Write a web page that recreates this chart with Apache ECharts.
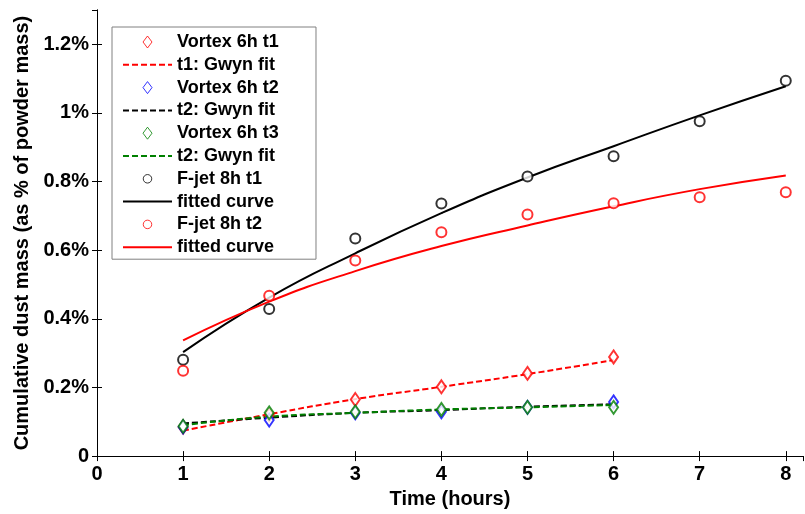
<!DOCTYPE html>
<html>
<head>
<meta charset="utf-8">
<script src="https://cdn.jsdelivr.net/npm/echarts@6/dist/echarts.min.js"></script>
<style>
html,body{margin:0;padding:0;background:#fff;}
#chart{width:805px;height:514px;}
</style>
</head>
<body>
<div id="chart"></div>
<script>
// ---- data (percent of powder mass) ----
const hoursVortex = [1, 2, 3, 4, 5, 6];
const hoursFjet = [1, 2, 3, 4, 5, 6, 7, 8];
const vortexT1 = [0.085, 0.120, 0.165, 0.202, 0.241, 0.289];
const vortexT1Fit = [0.074, 0.122, 0.166, 0.202, 0.239, 0.280];
const vortexT2 = [0.085, 0.105, 0.126, 0.129, 0.142, 0.158];
const vortexT2Fit = [0.095, 0.112, 0.126, 0.134, 0.144, 0.151];
const vortexT3 = [0.087, 0.126, 0.129, 0.136, 0.142, 0.142];
const vortexT3Fit = [0.090, 0.115, 0.126, 0.136, 0.142, 0.149];
const fjetT1 = [0.281, 0.429, 0.634, 0.736, 0.815, 0.874, 0.976, 1.094];
const fjetT1Fit = [0.303, 0.462, 0.591, 0.708, 0.812, 0.903, 0.993, 1.078];
const fjetT2 = [0.249, 0.467, 0.570, 0.652, 0.704, 0.737, 0.754, 0.769];
const fjetT2Fit = [0.337, 0.450, 0.539, 0.612, 0.672, 0.728, 0.778, 0.818];
const legendNames = ['Vortex 6h t1', 't1: Gwyn fit', 'Vortex 6h t2', 't2: Gwyn fit',
  'Vortex 6h t3', 't2: Gwyn fit ', 'F-jet 8h t1', 'fitted curve', 'F-jet 8h t2', 'fitted curve '];
const xTitle = 'Time (hours)';
const yTitle = 'Cumulative dust mass (as % of powder mass)';

const pair = (xs, ys) => xs.map((x, i) => [x, ys[i]]);
const FONT = '"Liberation Sans", Arial, sans-serif';

const RED = '#ff0000', BLUE = '#0000ff', GREEN = '#008000', BLACK = '#000000';
const DIAM = [9, 13], CIRC = 10;
const DIAMOND_ICON = 'path://M0,0L4.5,6L0,12L-4.5,6Z';
const CIRCLE_ICON = 'path://M0,-6.5M0,6.5M4.6,0A4.6,4.6,0,1,1,-4.6,0A4.6,4.6,0,1,1,4.6,0Z';

function markers(name, xs, ys, color, symbol, size) {
  return {
    name: name, type: 'scatter', data: pair(xs, ys),
    symbol: symbol, symbolSize: size,
    itemStyle: { color: color, borderColor: color, borderWidth: 1 },
    z: 5
  };
}
function fitLine(name, xs, ys, color, dashed) {
  return {
    name: name, type: 'line', data: pair(xs, ys), smooth: true,
    symbol: 'none', showSymbol: false,
    lineStyle: { color: color, width: 2, type: dashed ? [6, 3] : 'solid' },
    itemStyle: { color: color },
    z: 3
  };
}

const series = [
  markers(legendNames[0], hoursVortex, vortexT1, RED, 'emptyDiamond', DIAM),
  fitLine(legendNames[1], hoursVortex, vortexT1Fit, RED, true),
  markers(legendNames[2], hoursVortex, vortexT2, BLUE, 'emptyDiamond', DIAM),
  fitLine(legendNames[3], hoursVortex, vortexT2Fit, BLACK, true),
  markers(legendNames[4], hoursVortex, vortexT3, GREEN, 'emptyDiamond', DIAM),
  fitLine(legendNames[5], hoursVortex, vortexT3Fit, GREEN, true),
  markers(legendNames[6], hoursFjet, fjetT1, BLACK, 'emptyCircle', CIRC),
  fitLine(legendNames[7], hoursFjet, fjetT1Fit, BLACK, false),
  markers(legendNames[8], hoursFjet, fjetT2, RED, 'emptyCircle', CIRC),
  fitLine(legendNames[9], hoursFjet, fjetT2Fit, RED, false)
];

// legend entries: markers as outline paths, lines without a centre dot
const legendColors = [RED, RED, BLUE, BLACK, GREEN, GREEN, BLACK, BLACK, RED, RED];
const legendData = legendNames.map((n, i) => {
  const s = series[i];
  if (s.type === 'line') {
    return { name: n, itemStyle: { opacity: 0 } };
  }
  return { name: n, icon: s.symbol === 'emptyDiamond' ? DIAMOND_ICON : CIRCLE_ICON,
    itemStyle: { color: '#ffffff', borderColor: legendColors[i], borderWidth: 1 } };
});

const axisLineStyle = { show: true, lineStyle: { color: '#000', width: 1 } };
const tickStyle = { show: true, inside: true, length: 5, lineStyle: { color: '#000', width: 1 } };
const labelStyle = { color: '#000', fontSize: 20, fontWeight: 'bold', fontFamily: FONT };

const chart = echarts.init(document.getElementById('chart'), null, { renderer: 'canvas' });
chart.setOption({
  animation: false,
  backgroundColor: '#fff',
  grid: { left: 97, right: 2, top: 10, bottom: 54 },
  legend: {
    data: legendData,
    orient: 'vertical',
    left: 112, top: 27,
    padding: [6, 36, 3, 10],
    itemWidth: 49, itemHeight: 12, itemGap: 4.8,
    symbolKeepAspect: true,
    borderColor: '#808080', borderWidth: 1, backgroundColor: '#fff',
    selectedMode: false,
    textStyle: { color: '#000', fontSize: 18, fontWeight: 'bold', fontFamily: FONT, lineHeight: 18 }
  },
  xAxis: [{
    type: 'value', min: 0, max: 8.2, interval: 1,
    name: xTitle, nameLocation: 'middle', nameGap: 29,
    nameTextStyle: { color: '#000', fontSize: 20, fontWeight: 'bold', fontFamily: FONT },
    axisLine: axisLineStyle, axisTick: tickStyle, splitLine: { show: false },
    axisLabel: Object.assign({ margin: 8, showMaxLabel: false,
      formatter: v => (v > 8.01 ? '' : String(Math.round(v))) }, labelStyle)
  }, {
    type: 'value', min: 0, max: 8.2, interval: 1, position: 'top',
    axisLine: axisLineStyle, axisTick: tickStyle, splitLine: { show: false },
    axisLabel: { show: false }
  }],
  yAxis: [{
    type: 'value', min: 0, max: 1.3, interval: 0.2,
    name: yTitle, nameLocation: 'middle', nameGap: 62,
    nameTextStyle: { color: '#000', fontSize: 20, fontWeight: 'bold', fontFamily: FONT },
    axisLine: axisLineStyle, axisTick: tickStyle, splitLine: { show: false },
    axisLabel: Object.assign({ margin: 8, showMaxLabel: false,
      formatter: v => { if (v > 1.21) return ''; const r = Math.round(v * 10) / 10; return r === 0 ? '0' : r + '%'; } }, labelStyle)
  }, {
    type: 'value', min: 0, max: 1.3, interval: 0.2, position: 'right',
    axisLine: axisLineStyle, axisTick: tickStyle, splitLine: { show: false },
    axisLabel: { show: false }
  }],
  series: series
});
</script>
</body>
</html>
